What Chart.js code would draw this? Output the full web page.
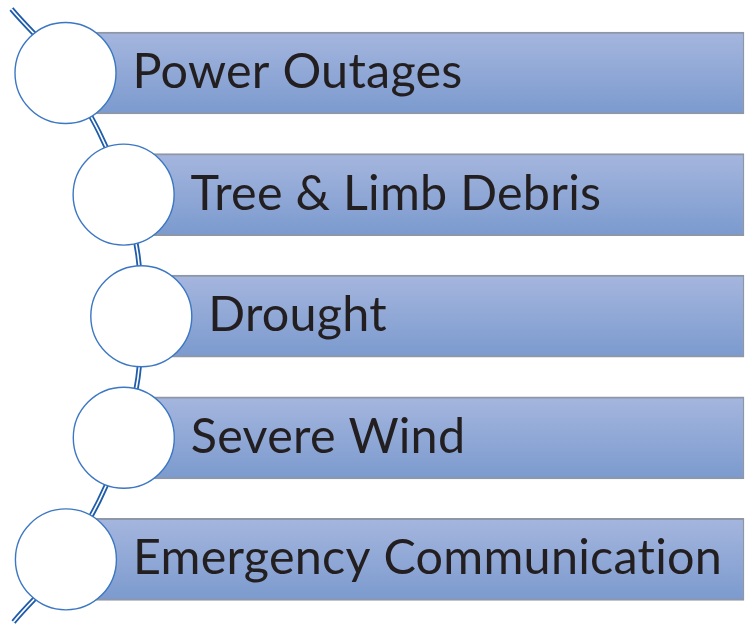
<!DOCTYPE html>
<html>
<head>
<meta charset="utf-8">
<script src="https://cdn.jsdelivr.net/npm/chart.js@4.4.1/dist/chart.umd.min.js"></script>
<style>
  html, body { margin: 0; padding: 0; background: #ffffff; }
  #wrap { width: 753px; height: 626px; }
</style>
</head>
<body>
<div id="wrap"><canvas id="c" width="753" height="626"></canvas></div>
<script>
// ---- data ----
const categories = ["Power Outages", "Tree & Limb Debris", "Drought", "Severe Wind", "Emergency Communication"];
const rowIndex = categories.map((_, i) => i);

// ---- layout (pixels) ----
const W = 753, H = 626;
const ROW0 = 73, ROWGAP = 121.6;
const ARC_CX = -287.7, ARC_CY = 316.5, ARC_R = 429;
const BAR_END = 744;
const TEXT_DX = 67;
const yPix = v => ROW0 + v * ROWGAP;
const arcX = v => { const dy = yPix(v) - ARC_CY; return ARC_CX + Math.sqrt(ARC_R * ARC_R - dy * dy); };
const endTop = (9 - ROW0) / ROWGAP, endBottom = (622 - ROW0) / ROWGAP;
const connector = [endTop, ...rowIndex, endBottom].map(v => ({ x: arcX(v), y: v }));

const barGradient = (ctx) => {
  const chart = ctx.chart;
  if (ctx.dataIndex === undefined) return '#90a8d6';
  let yc = NaN;
  if (chart.scales && chart.scales.y) yc = chart.scales.y.getPixelForValue(rowIndex[ctx.dataIndex]);
  if (!isFinite(yc)) yc = yPix(rowIndex[ctx.dataIndex]);
  const g = chart.ctx.createLinearGradient(0, yc - 41, 0, yc + 41);
  g.addColorStop(0, '#A5B6DE');
  g.addColorStop(1, '#7B9ACE');
  return g;
};

const labelPlugin = {
  id: 'rowLabels',
  afterDatasetsDraw(chart) {
    const c = chart.ctx;
    c.save();
    c.fillStyle = '#231F20';
    c.font = '48.5px Lato, "Open Sans", sans-serif';
    if ('letterSpacing' in c) c.letterSpacing = '0.25px';
    c.textAlign = 'left';
    c.textBaseline = 'alphabetic';
    categories.forEach((t, i) => {
      const x = chart.scales.x.getPixelForValue(arcX(i)) + TEXT_DX;
      const y = chart.scales.y.getPixelForValue(i) + 15;
      c.fillText(t, x, y);
    });
    c.restore();
  }
};

new Chart(document.getElementById('c'), {
  type: 'bar',
  data: {
    datasets: [
      {
        type: 'scatter',
        order: 0,
        data: rowIndex.map(i => ({ x: arcX(i), y: i })),
        pointRadius: 50.5,
        pointHoverRadius: 50.5,
        pointBackgroundColor: '#FFFFFF',
        pointBorderColor: '#3C77C3',
        pointBorderWidth: 1.4,
        showLine: false,
        clip: false
      },
      {
        type: 'bar',
        order: 1,
        indexAxis: 'y',
        data: rowIndex.map(i => ({ y: i, x: [arcX(i), BAR_END] })),
        barThickness: 82,
        backgroundColor: barGradient,
        borderColor: '#8E97A7',
        borderWidth: { top: 2, bottom: 2, right: 1.5, left: 0 },
        borderSkipped: false,
        clip: false
      },
      {
        type: 'line',
        order: 2,
        data: connector,
        borderColor: '#FFFFFF',
        borderWidth: 1.6,
        tension: 0.4,
        pointRadius: 0,
        fill: false,
        clip: false
      },
      {
        type: 'line',
        order: 3,
        data: connector,
        borderColor: '#1F5CAA',
        borderWidth: 5.2,
        tension: 0.4,
        pointRadius: 0,
        fill: false,
        clip: false
      }
    ]
  },
  options: {
    responsive: false,
    animation: false,
    events: [],
    layout: { padding: 0, autoPadding: false },
    plugins: { legend: { display: false }, tooltip: { enabled: false } },
    scales: {
      x: { type: 'linear', display: false, offset: false, grid: { offset: false }, min: 0, max: W },
      y: { type: 'linear', display: false, offset: false, grid: { offset: false }, reverse: true, min: -ROW0 / ROWGAP, max: (H - ROW0) / ROWGAP }
    }
  },
  plugins: [labelPlugin]
});
</script>
</body>
</html>
